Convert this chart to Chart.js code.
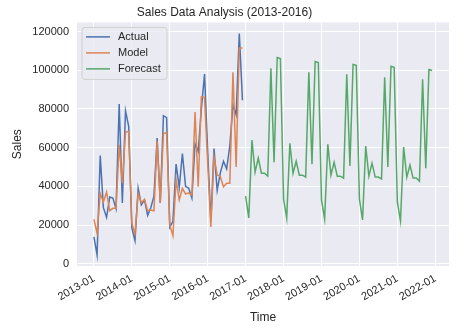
<!DOCTYPE html>
<html>
<head>
<meta charset="utf-8">
<title>Sales Data Analysis</title>
<script src="https://cdn.jsdelivr.net/npm/chart.js@4/dist/chart.umd.min.js"></script>
<style>
  html, body { margin: 0; padding: 0; background: #fff; }
</style>
</head>
<body>
<canvas id="chart" width="471" height="333"></canvas>
<script>
// months are counted from 2013-01 (x = 0)
const startYear = 2013;
const yearTicks = [0, 12, 24, 36, 48, 60, 72, 84, 96, 108];
const salesTicks = [0, 20000, 40000, 60000, 80000, 100000, 120000];

const actualSales = [
  14000, 4600, 56000, 29000, 24000, 34500, 34000, 28500, 82500, 31500, 79000, 71000,
  18500, 12000, 39000, 30500, 33000, 25000, 29000, 35000, 65000, 31500, 76500, 75500,
  19000, 22000, 51500, 39500, 57000, 40000, 39000, 34000, 62000, 58000, 80000, 98000,
  58000, 22000, 59500, 38000, 47000, 53000, 49000, 61000, 82000, 77000, 119000, 84500,
];

const modelSales = [
  23000, 15800, 36400, 32000, 37000, 27500, 28700, 28700, 61500, 41600, 68000, 68500,
  21000, 15500, 36400, 31600, 33300, 27400, 27800, 27400, 63500, 31600, 67300, 67800,
  20100, 14600, 43300, 33000, 39000, 36000, 36700, 35500, 78400, 39800, 86200, 86000,
  52000, 19000, 55300, 46000, 45000, 39800, 41600, 41600, 99000, 50000, 111500, 111500,
];

// 2017-01 .. 2021-12
const forecastSales = [
  35000, 23700, 63900, 47400, 54600, 46800, 46800, 45300, 101000, 52500, 106600, 106000,
  33500, 23700, 62300, 46800, 53000, 45800, 45800, 44800, 98900, 51500, 104500, 104000,
  33000, 23200, 61800, 45800, 52500, 45300, 45300, 44300, 97900, 50500, 103000, 102500,
  33500, 22700, 60800, 45300, 52000, 44800, 44800, 43800, 96300, 50000, 102000, 101500,
  32000, 22100, 60300, 44800, 51000, 44300, 44300, 42700, 95300, 49400, 100400, 99900,
];

const forecastStart = actualSales.length;

const toPoints = (values, offset) => values.map((v, i) => ({ x: offset + i, y: v }));

const FONT = "'Liberation Sans', Arial, sans-serif";
const TEXT = "#262626";

const plotBackground = {
  id: "plotBackground",
  beforeDraw(chart) {
    const { ctx, chartArea: a } = chart;
    ctx.save();
    ctx.fillStyle = "#EAEAF2";
    ctx.fillRect(a.left, a.top, a.right - a.left, a.bottom - a.top);
    ctx.restore();
  },
};

// legend box in the upper-left corner of the plot
const boxLegend = {
  id: "boxLegend",
  afterDatasetsDraw(chart) {
    const { ctx, chartArea: a } = chart;
    const x = a.left + 5, y = a.top + 5, w = 85, h = 52;
    ctx.save();
    ctx.beginPath();
    ctx.roundRect(x, y, w, h, 3);
    ctx.fillStyle = "rgba(234,234,242,0.8)";
    ctx.fill();
    ctx.strokeStyle = "#d0d0d0";
    ctx.lineWidth = 1;
    ctx.stroke();
    ctx.font = "11px " + FONT;
    ctx.textBaseline = "middle";
    chart.data.datasets.forEach((ds, i) => {
      const ry = y + 9.5 + i * 16;
      ctx.beginPath();
      ctx.moveTo(x + 4, ry);
      ctx.lineTo(x + 28, ry);
      ctx.strokeStyle = ds.borderColor;
      ctx.lineWidth = 1.5;
      ctx.stroke();
      ctx.fillStyle = TEXT;
      ctx.fillText(ds.label, x + 36, ry);
    });
    ctx.restore();
  },
};

new Chart(document.getElementById("chart"), {
  type: "line",
  data: {
    datasets: [
      {
        label: "Actual",
        data: toPoints(actualSales, 0),
        borderColor: "#4C72B0",
        order: 3,
      },
      {
        label: "Model",
        data: toPoints(modelSales, 0),
        borderColor: "#DD8452",
        order: 2,
      },
      {
        label: "Forecast",
        data: toPoints(forecastSales, forecastStart),
        borderColor: "#55A868",
        order: 1,
      },
    ],
  },
  options: {
    responsive: false,
    animation: false,
    devicePixelRatio: 1,
    elements: {
      point: { radius: 0 },
      line: { borderWidth: 1.5, tension: 0, fill: false },
    },
    layout: { padding: { left: 0, right: 22, top: 0, bottom: 0 } },
    plugins: {
      legend: { display: false },
      tooltip: { enabled: false },
      title: {
        display: true,
        text: "Sales Data Analysis (2013-2016)",
        color: TEXT,
        font: { family: FONT, size: 12, weight: "normal" },
        padding: { top: 5, bottom: 3 },
      },
    },
    scales: {
      x: {
        type: "linear",
        min: -5.35,
        max: 112.35,
        afterBuildTicks: (scale) => {
          scale.ticks = yearTicks.map((v) => ({ value: v }));
        },
        afterFit: (scale) => {
          scale.height = 67;
        },
        ticks: {
          color: TEXT,
          font: { family: FONT, size: 11 },
          minRotation: 30,
          maxRotation: 30,
          padding: 6,
          callback: (v) => `${startYear + Math.round(v / 12)}-01`,
        },
        grid: { color: "#ffffff", lineWidth: 1, drawTicks: false },
        border: { display: false },
        title: {
          display: true,
          text: "Time",
          color: TEXT,
          font: { family: FONT, size: 12 },
          padding: { top: 0, bottom: 8 },
        },
      },
      y: {
        min: -1100,
        max: 124700,
        afterBuildTicks: (scale) => {
          scale.ticks = salesTicks.map((v) => ({ value: v }));
        },
        afterFit: (scale) => {
          scale.width = 77;
        },
        ticks: {
          color: TEXT,
          font: { family: FONT, size: 11 },
          padding: 8,
          callback: (v) => String(v),
        },
        grid: { color: "#ffffff", lineWidth: 1, drawTicks: false },
        border: { display: false },
        title: {
          display: true,
          text: "Sales",
          color: TEXT,
          font: { family: FONT, size: 12 },
          padding: { top: 10, bottom: 0 },
        },
      },
    },
  },
  plugins: [plotBackground, boxLegend],
});
</script>
</body>
</html>
